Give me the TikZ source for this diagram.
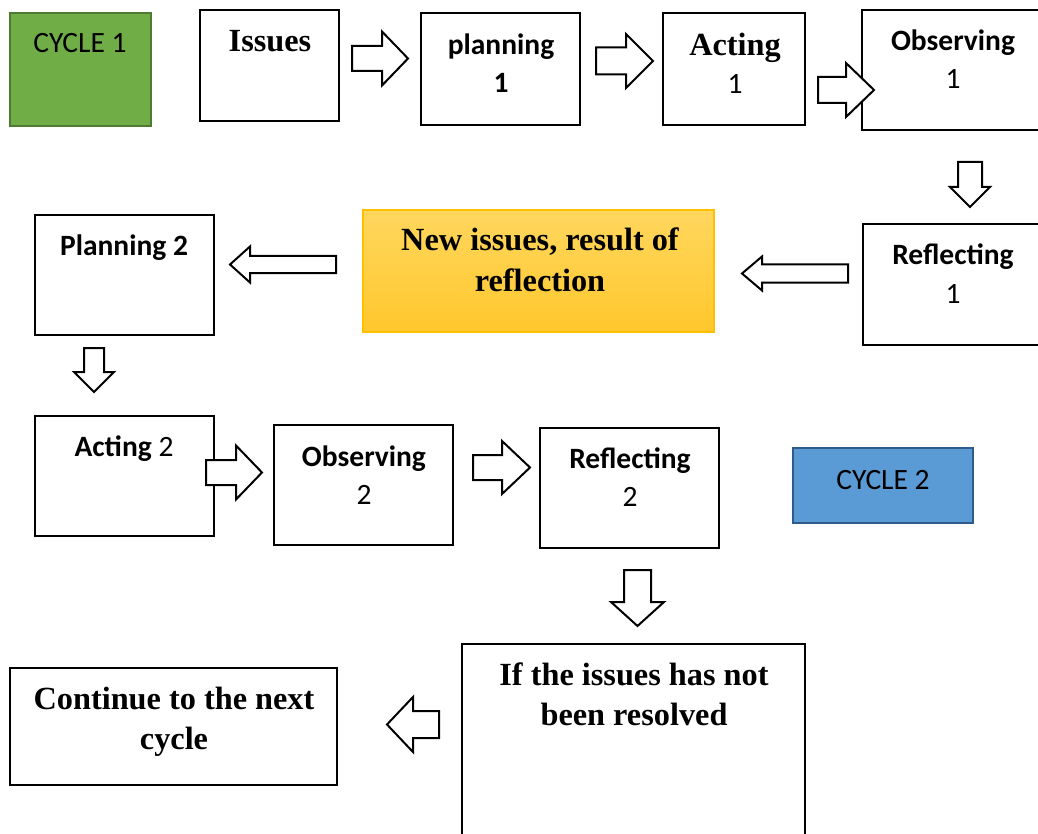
\documentclass[tikz,border=0pt]{standalone}
\usepackage{fontspec}
\setmainfont{Carlito}
\newfontfamily\tnr{Liberation Serif}
\definecolor{cgreen}{HTML}{70AD47}
\definecolor{cgreenb}{HTML}{4E7A31}
\definecolor{cblue}{HTML}{5B9BD5}
\definecolor{cblueb}{HTML}{2F5B8A}
\definecolor{ytop}{HTML}{FFD75E}
\definecolor{ybot}{HTML}{FFC72C}
\definecolor{yborder}{HTML}{FFC000}
\newcommand\rblk[6]{\draw[blk] (#1,#4-#5) -- (#2,#4-#5) -- (#2,#4-#6) -- (#3,#4) -- (#2,#4+#6) -- (#2,#4+#5) -- (#1,#4+#5) -- cycle;}
\newcommand\dblk[6]{\draw[blk] (#4-#5,#1) -- (#4-#5,#2) -- (#4-#6,#2) -- (#4,#3) -- (#4+#6,#2) -- (#4+#5,#2) -- (#4+#5,#1) -- cycle;}
\begin{document}
\begin{tikzpicture}[x=1pt,y=-1pt,
  box/.style={draw=black, line width=2.2pt, fill=white, inner sep=0pt},
  blk/.style={draw=black, line width=2pt, fill=white, line join=miter},
  ctxt/.style={anchor=base, inner sep=0pt, font=\fontsize{29.5}{34}\selectfont},
  ctxtb/.style={anchor=base, inner sep=0pt, font=\fontsize{29.5}{34}\selectfont\bfseries},
  ttxt/.style={anchor=base, inner sep=0pt, font=\fontsize{32.3}{38}\selectfont\tnr\bfseries}]
\useasboundingbox (0,0) rectangle (1038,834);
\clip (0,0) rectangle (1038,834);
% boxes
\node[box, draw=cgreenb, fill=cgreen, minimum width=141pt, minimum height=113pt] (cyc1) at (80.5,69.5) {};
\node[box, minimum width=139pt, minimum height=111pt] (issues) at (269.5,65.5) {};
\node[box, minimum width=159pt, minimum height=112pt] (plan1) at (500.5,69) {};
\node[box, minimum width=142pt, minimum height=112pt] (act1) at (734,69) {};
\node[box, minimum width=188pt, minimum height=120pt] (obs1) at (956,70) {};
\node[box, minimum width=187pt, minimum height=121pt] (refl1) at (956.5,284.5) {};
\node[box, draw=yborder, line width=1.5pt, top color=ytop, bottom color=ybot, minimum width=351pt, minimum height=122pt] (newiss) at (538.5,271) {};
\node[box, minimum width=179pt, minimum height=120pt] (plan2) at (124.5,275) {};
\node[box, minimum width=179pt, minimum height=120pt] (act2) at (124.5,476) {};
\node[box, minimum width=179pt, minimum height=120pt] (obs2) at (363.5,485) {};
\node[box, minimum width=179pt, minimum height=120pt] (refl2) at (629.5,488) {};
\node[box, draw=cblueb, fill=cblue, minimum width=180pt, minimum height=75pt] (cyc2) at (883,485.5) {};
\node[box, minimum width=343pt, minimum height=206pt] (ifbox) at (633.5,747) {};
\node[box, minimum width=327pt, minimum height=117pt] (cont) at (173.5,726.5) {};
% texts
\node[ctxt] (t1) at (80,53) {CYCLE 1};
\node[ttxt] (t2) at (270,52) {Issues};
\node[ctxtb] (t3) at (501,55) {planning};
\node[ctxtb] (t4) at (501,93) {1};
\node[ttxt] (t5) at (735,56) {Acting};
\node[ctxt] (t6) at (735,94) {1};
\node[ctxtb] (t7) at (953,51) {Observing};
\node[ctxt] (t8) at (953,89) {1};
\node[ctxtb] (t9) at (953,265) {Reflecting};
\node[ctxt] (t10) at (953,303) {1};
\node[ttxt] (t11) at (540,251) {New issues, result of};
\node[ttxt] (t12) at (540,291) {reflection};
\node[ctxtb] (t13) at (124,255) {Planning 2};
\node[ctxt] (t14) at (124,456) {\textbf{Acting} 2};
\node[ctxtb] (t15) at (364,466) {Observing};
\node[ctxt] (t16) at (364,504) {2};
\node[ctxtb] (t17) at (630,468) {Reflecting};
\node[ctxt] (t18) at (630,506) {2};
\node[ctxt] (t19) at (883,489) {CYCLE 2};
\node[ttxt] (t20) at (634,685) {If the issues has not};
\node[ttxt] (t21) at (634,725) {been resolved};
\node[ttxt] (t22) at (174,709) {Continue to the next};
\node[ttxt] (t23) at (174,749) {cycle};
% block arrows
\rblk{352}{382}{408}{58.5}{12.5}{27}
\rblk{596}{626}{653}{61}{13.5}{27}
\rblk{818}{846}{874}{90}{13}{27}
\dblk{162}{187}{207}{970}{12}{20}
\rblk{848}{762}{742}{273.5}{9}{17}
\rblk{336}{250}{230}{264.5}{8.5}{18}
\dblk{348}{372}{392}{94}{10}{20}
\rblk{206}{236}{262}{472.5}{12.5}{27}
\rblk{473}{502}{530}{467.5}{12.5}{26.5}
\dblk{570}{602}{626}{637.5}{13.5}{26.5}
\rblk{439}{413}{387}{724.5}{13.5}{27.5}
\end{tikzpicture}
\end{document}
